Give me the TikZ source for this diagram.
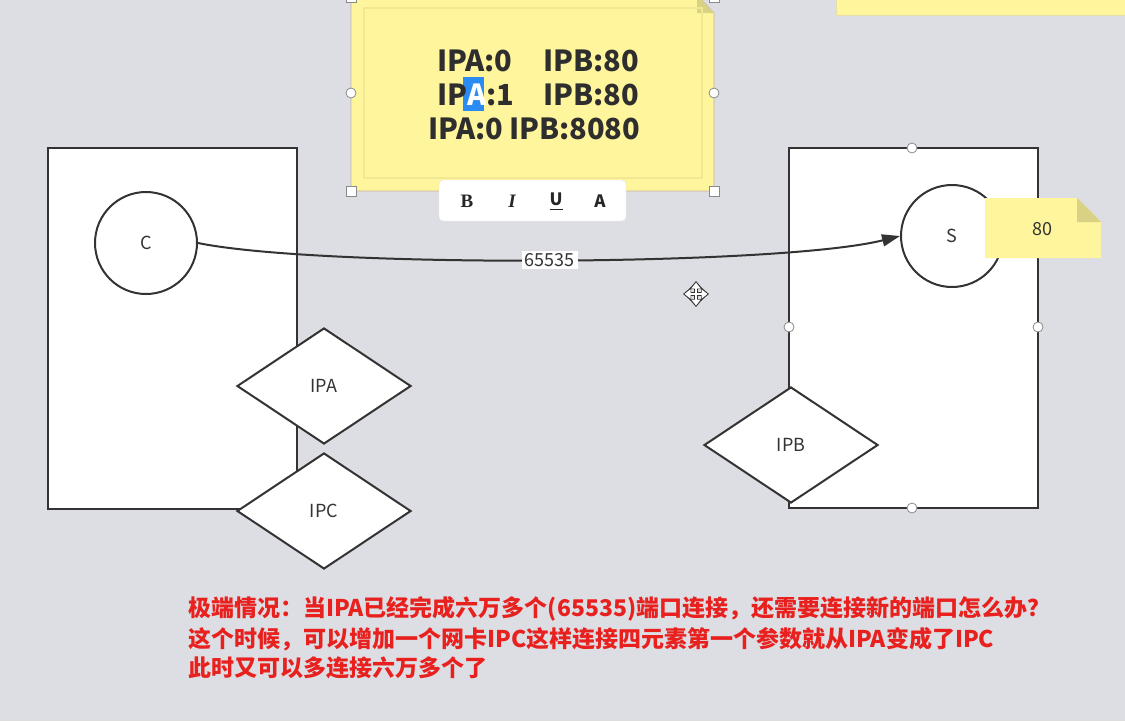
\documentclass[tikz,border=0pt]{standalone}
\usepackage{fontspec}
\setmainfont{Noto Sans CJK SC}
\newfontfamily\serifit{Liberation Serif}
\usetikzlibrary{shapes.geometric,arrows.meta}
\definecolor{bg}{HTML}{DDDEE3}
\definecolor{note}{HTML}{FFF59D}
\definecolor{notefold}{HTML}{D9D184}
\definecolor{ink}{HTML}{333333}
\definecolor{redtxt}{HTML}{E8201E}
\definecolor{hl}{HTML}{2A8BF2}
\definecolor{handle}{HTML}{8A8A8A}
\begin{document}
\begin{tikzpicture}[x=1pt,y=-1pt,
  box/.style={draw=ink, line width=2pt, fill=white, inner sep=0pt},
  circ/.style={circle, draw=ink, line width=2pt, fill=white, minimum size=102pt, inner sep=0pt, font=\fontsize{18}{20}\selectfont, text=ink},
  dia/.style={diamond, draw=ink, line width=2pt, fill=white, minimum width=174pt, minimum height=116pt, inner sep=0pt, font=\fontsize{18}{20}\selectfont, text=ink},
  hdl/.style={circle, draw=handle, line width=0.8pt, fill=white, minimum size=10pt, inner sep=0pt},
  hsq/.style={rectangle, draw=handle, line width=0.8pt, fill=white, minimum size=10pt, inner sep=0pt},
  conn/.style={draw=ink, line width=2pt, -{Triangle[length=18pt,width=12pt]}},
  lbl/.style={fill=white, inner xsep=3pt, inner ysep=2pt, font=\fontsize{18}{20}\selectfont, text=ink},
  notetxt/.style={anchor=base west, inner sep=0pt, font=\fontsize{29}{32}\selectfont\bfseries, text=ink!90!black},
  tool/.style={inner sep=0pt, font=\fontsize{17}{20}\selectfont\bfseries, text=black!85},
  red/.style={anchor=base west, inner sep=0pt, font=\fontsize{23}{26}\selectfont\bfseries, text=redtxt}
]
\useasboundingbox[fill=bg] (0,0) rectangle (1125,721);

% top-right yellow strip
\fill[note] (836,-2) rectangle (1127,15);
\draw[notefold!70!white, line width=0.8pt] (836,-2) -- (836,15) -- (1127,15);

% left box
\node[box, minimum width=249pt, minimum height=361pt] (L) at (172.5,328.5) {};
% right box
\node[box, minimum width=249pt, minimum height=360pt] (R) at (913.5,328) {};

% circles
\node[circ] (C) at (146,243) {C};
\node[circ] (S) at (952,236) {S};

% diamonds
\node[dia] (IPA) at (324,386) {IPA};
\node[dia] (IPC) at (324,511) {IPC};
\node[dia] (IPB) at (791,445) {IPB};

% handles of right box
\node[hdl] (h1) at (912,148) {};
\node[hdl] (h2) at (789,327) {};
\node[hdl] (h3) at (1038,327) {};
\node[hdl] (h4) at (912,508) {};

% note 80
\fill[note] (985,198) -- (1077,198) -- (1101,222) -- (1101,258) -- (985,258) -- cycle;
\fill[notefold] (1077,198) -- (1077,222) -- (1101,222) -- cycle;
\node[inner sep=0pt, font=\fontsize{18}{20}\selectfont, text=ink] (n80) at (1042,229) {80};

% connector
\draw[conn] (C.east) .. controls (320,268) and (780,266) .. (S.west)
  node[pos=0.5, lbl] (port) {65535};

% big yellow note
\filldraw[fill=note, draw=brown!45!gray!60, line width=0.8pt] (351,-5) -- (697,-5) -- (714,13) -- (714,191) -- (351,191) -- cycle;
\fill[notefold] (697,-5) -- (697,13) -- (714,13) -- cycle;
\draw[draw=notefold!35!note, line width=1.2pt] (364,8) rectangle (702,178);
\node[hdl] (n1) at (351,93) {};
\node[hdl] (n2) at (714,93) {};
\node[hsq] (n3) at (351,191) {};
\node[hsq] (n4) at (714,191) {};
\node[hsq] (n5) at (351,-3) {};
\node[hsq] (n6) at (714,-3) {};

\fill[hl] (463,77) rectangle (484,111);
\node[notetxt] (t1a) at (437,71) {IPA:0};
\node[notetxt] (t1b) at (543,71) {IPB:80};
\node[notetxt] (t2a) at (437,105) {IP{\color{white}A}:1};
\node[notetxt] (t2b) at (543,105) {IPB:80};
\node[notetxt] (t3a) at (428,139) {IPA:0};
\node[notetxt] (t3b) at (509,139) {IPB:8080};

% toolbar
\node[draw=black!12, fill=white, rounded corners=4pt, minimum width=187pt, minimum height=41pt, inner sep=0pt] (tb) at (532.5,200.5) {};
\node[tool, font=\fontsize{19}{20}\selectfont\serifit\bfseries] (tB) at (467,201) {B};
\node[tool, font=\fontsize{19}{20}\selectfont\serifit\bfseries\itshape] (tI) at (512,201) {I};
\node[tool] (tU) at (556,199) {U};
\draw[black!85, line width=1.6pt] (549.5,209.5) -- (562.5,209.5);
\node[tool] (tA) at (600,201) {A};

% move cursor
\coordinate (mc) at (696,294);
\foreach \a in {0,90,180,270}{
  \draw[black!80, line width=4.4pt, -{Triangle[length=8pt,width=13pt]}] (mc) -- ++(\a:13);
}
\foreach \a in {0,90,180,270}{
  \draw[white, line width=2pt, -{Triangle[length=6pt,width=9pt]}] (mc) -- ++(\a:11.5);
}

% red text
\node[red] (r1) at (188,616) {极端情况：当IPA已经完成六万多个(65535)端口连接，还需要连接新的端口怎么办？};
\node[red] (r2) at (188,647) {这个时候，可以增加一个网卡IPC这样连接四元素第一个参数就从IPA变成了IPC};
\node[red] (r3) at (188,676) {此时又可以多连接六万多个了};
\end{tikzpicture}
\end{document}
